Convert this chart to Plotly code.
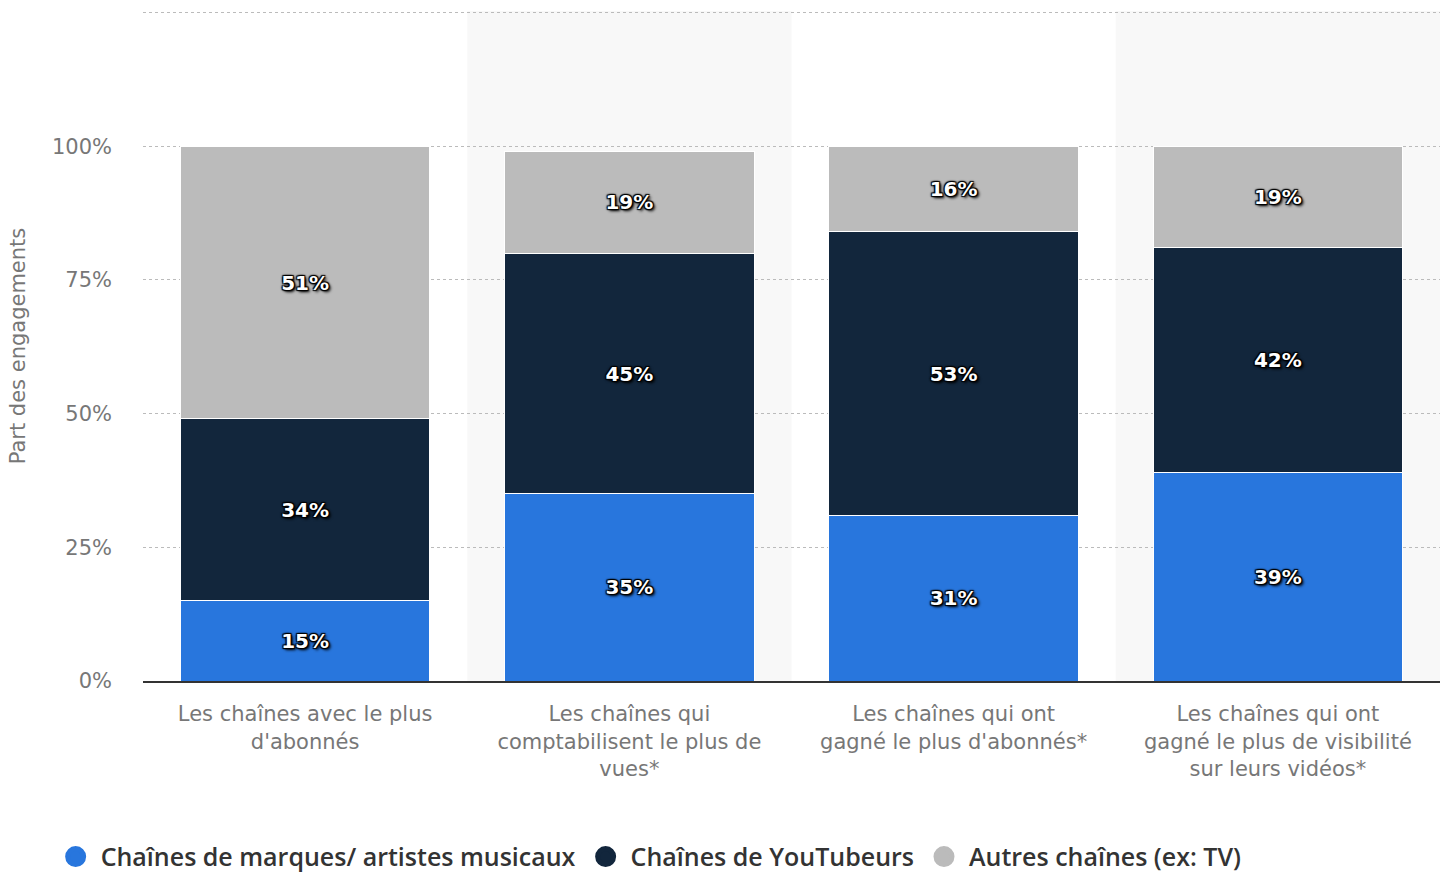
import plotly.graph_objects as go

categories = [
    "Les chaînes avec le plus<br>d'abonnés",
    "Les chaînes qui<br>comptabilisent le plus de<br>vues*",
    "Les chaînes qui ont<br>gagné le plus d'abonnés*",
    "Les chaînes qui ont<br>gagné le plus de visibilité<br>sur leurs vidéos*",
]
series_names = [
    "Chaînes de marques/ artistes musicaux",
    "Chaînes de YouTubeurs",
    "Autres chaînes (ex: TV)",
]
marques = [15, 35, 31, 39]
youtubeurs = [34, 45, 53, 42]
autres = [51, 19, 16, 19]
colors = ["#2876dd", "#12263c", "#bbbbbb"]

tick_vals = [0, 25, 50, 75, 100, 125]
tick_text = ["0%", "25%", "50%", "75%", "100%", ""]

shadow = ("1px 1px 1px #000, -1px -1px 1px #000, 1px -1px 1px #000, "
          "-1px 1px 1px #000, 0px 0px 3px #000, 2px 2px 3px #000")

fig = go.Figure()
for name, vals, col in zip(series_names, [marques, youtubeurs, autres], colors):
    fig.add_trace(go.Bar(
        x=categories, y=vals, name=name, showlegend=False,
        marker=dict(color=col, line=dict(color="#ffffff", width=1)),
        text=[f"{v}%" for v in vals],
        textposition="inside", insidetextanchor="middle",
        textangle=0,
        textfont=dict(family="DejaVu Sans", size=20, color="#ffffff", weight="bold",
                      shadow=shadow),
        hoverinfo="skip",
    ))
# legend entries (circle symbols)
for name, col in zip(series_names, colors):
    fig.add_trace(go.Scatter(
        x=[None], y=[None], mode="markers", name=name,
        marker=dict(symbol="circle", size=16, color=col, line=dict(color=col, width=5)),
        hoverinfo="skip",
    ))

for i in (1, 3):
    fig.add_shape(type="rect", xref="x", yref="paper", x0=i - 0.5, x1=i + 0.5,
                  y0=0, y1=1, fillcolor="#f8f8f8", line=dict(width=0), layer="below")

fig.update_layout(
    width=1447, height=877,
    barmode="stack", bargap=0.23,
    plot_bgcolor="#ffffff", paper_bgcolor="#ffffff",
    margin=dict(l=143, r=7, t=11, b=196),
    font=dict(family="DejaVu Sans", color="#666666"),
    legend=dict(orientation="h", xref="container", yref="container",
                x=0.035, y=0.023, xanchor="left", yanchor="middle",
                font=dict(family="Open Sans", size=25, color="#333333", weight=600),
                traceorder="normal", itemwidth=40, tracegroupgap=0),
    xaxis=dict(showline=True, linecolor="#333333", linewidth=2,
               ticks="outside", ticklen=13, tickcolor="rgba(0,0,0,0)",
               tickfont=dict(family="DejaVu Sans", size=21, color="#777777"),
               showgrid=False, fixedrange=True),
    yaxis=dict(range=[0, 125.3], tickvals=tick_vals, ticktext=tick_text,
               showgrid=True, gridcolor="#bbbbbb", griddash="dot", gridwidth=1,
               zeroline=False, ticklabelstandoff=30,
               tickfont=dict(family="DejaVu Sans", size=21, color="#777777"),
               title=dict(text="Part des engagements",
                          font=dict(family="DejaVu Sans", size=21, color="#777777"),
                          standoff=20)),
)

fig.write_html("out.html")
